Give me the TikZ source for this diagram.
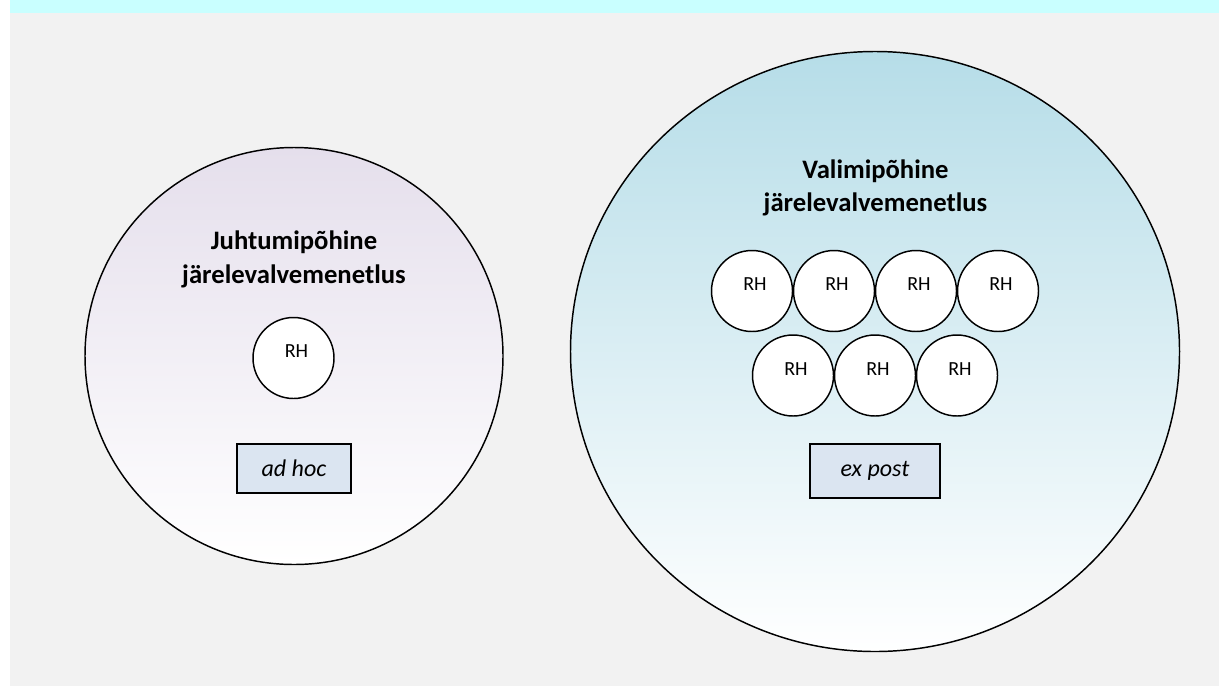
\documentclass[tikz,border=0pt]{standalone}
\usepackage{fontspec}
\setmainfont{Carlito}
\usetikzlibrary{shapes.geometric}
\definecolor{bggray}{HTML}{F2F2F2}
\definecolor{bandcyan}{HTML}{C9FFFF}
\definecolor{lavtop}{HTML}{E5DFEC}
\definecolor{bluetop}{HTML}{B6DDE8}
\definecolor{boxfill}{HTML}{DBE5F1}
\begin{document}
\begin{tikzpicture}[x=0.75pt,y=-0.75pt,
  bigcircle/.style={ellipse, draw=black, line width=1.1pt, inner sep=0pt},
  rh/.style={circle, draw=black, fill=white, line width=1.1pt, minimum size=60.75pt, inner sep=0pt,
    label={[rhtext]center:RH}},
  rhtext/.style={xshift=2.25pt, yshift=4.9pt, font=\fontsize{15}{18}\selectfont},
  title/.style={font=\fontsize{20}{25}\selectfont\bfseries, align=center, anchor=base, inner sep=0pt},
  tag/.style={draw=black, fill=boxfill, line width=1.1pt, inner sep=0pt,
    font=\fontsize{18}{21}\selectfont\itshape}
]
\useasboundingbox (0,0) rectangle (1219,686);
\fill[white] (0,0) rectangle (1219,686);
\fill[bggray] (10,0) rectangle (1219,686);
\fill[bandcyan] (10,0) rectangle (1219,13.3);

% left circle
\node[bigcircle, minimum width=313.5pt, minimum height=312.75pt, top color=lavtop, bottom color=white] (left) at (294,356) {};
\node[title] (lefttitle) at (294,283) {Juhtumipõhine\\järelevalvemenetlus};
\node[rh] (lrh) at (293.5,358) {};
\node[tag, minimum width=85.5pt, minimum height=36.75pt] (adhoc) at (294,468.5) {ad hoc};

% right circle
\node[bigcircle, minimum width=456.75pt, minimum height=450pt, top color=bluetop, bottom color=white] (right) at (875,351.5) {};
\node[title] (righttitle) at (875.5,211.7) {Valimipõhine\\järelevalvemenetlus};
\node[rh] (r1) at (752,291) {};
\node[rh] (r2) at (834,291) {};
\node[rh] (r3) at (916,291) {};
\node[rh] (r4) at (998,291) {};
\node[rh] (r5) at (793,375.5) {};
\node[rh] (r6) at (875,375.5) {};
\node[rh] (r7) at (957,375.5) {};
\node[tag, minimum width=97.5pt, minimum height=40.5pt] (expost) at (875,471) {ex post};
\end{tikzpicture}
\end{document}
